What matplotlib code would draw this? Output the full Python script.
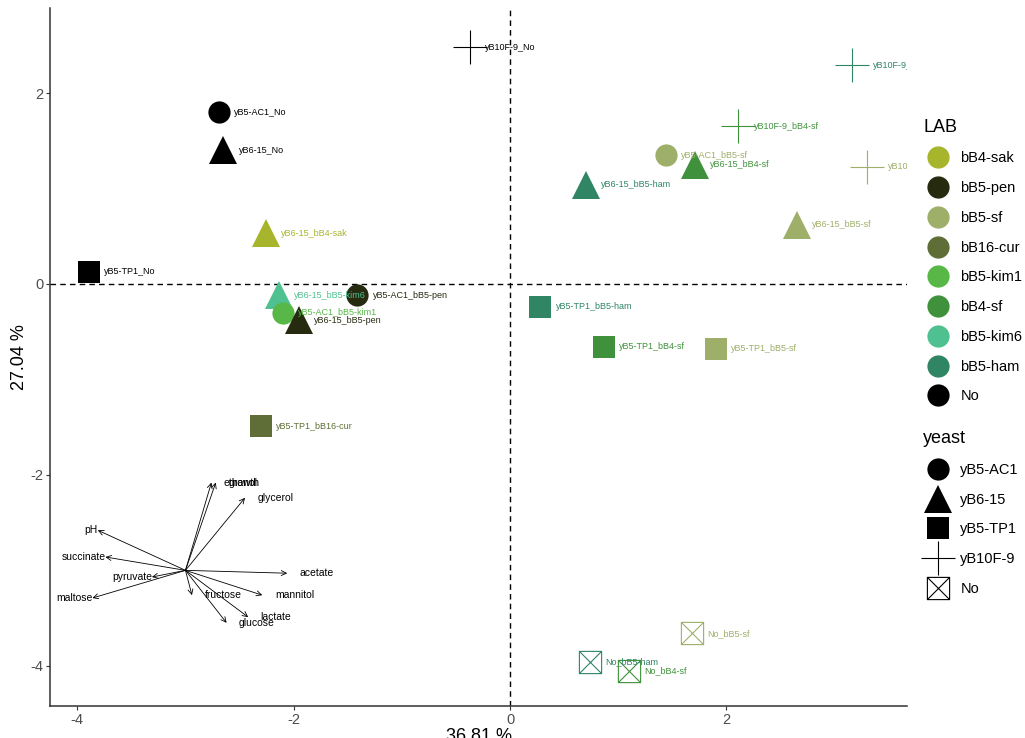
import numpy as np
import matplotlib
matplotlib.use("Agg")
import matplotlib.pyplot as plt
from matplotlib.path import Path
from matplotlib.lines import Line2D

plt.rcParams['font.family'] = ['Liberation Sans', 'DejaVu Sans']
plt.rcParams['axes.unicode_minus'] = False

# sample scores (PC1, PC2)
names = ["yB5-AC1_No", "yB6-15_No", "yB5-TP1_No", "yB6-15_bB4-sak", "yB10F-9_No",
         "yB10F-9_bB5-ham", "yB10F-9_bB4-sf", "yB10F-9_bB5-sf", "yB5-AC1_bB5-sf",
         "yB6-15_bB4-sf", "yB6-15_bB5-ham", "yB6-15_bB5-sf", "yB5-TP1_bB5-ham",
         "yB5-TP1_bB4-sf", "yB5-TP1_bB5-sf", "yB6-15_bB5-kim6", "yB5-AC1_bB5-kim1",
         "yB6-15_bB5-pen", "yB5-AC1_bB5-pen", "yB5-TP1_bB16-cur", "No_bB5-sf",
         "No_bB5-ham", "No_bB4-sf"]
yeast = ["yB5-AC1", "yB6-15", "yB5-TP1", "yB6-15", "yB10F-9",
         "yB10F-9", "yB10F-9", "yB10F-9", "yB5-AC1",
         "yB6-15", "yB6-15", "yB6-15", "yB5-TP1",
         "yB5-TP1", "yB5-TP1", "yB6-15", "yB5-AC1",
         "yB6-15", "yB5-AC1", "yB5-TP1", "No",
         "No", "No"]
lab = ["No", "No", "No", "bB4-sak", "No",
       "bB5-ham", "bB4-sf", "bB5-sf", "bB5-sf",
       "bB4-sf", "bB5-ham", "bB5-sf", "bB5-ham",
       "bB4-sf", "bB5-sf", "bB5-kim6", "bB5-kim1",
       "bB5-pen", "bB5-pen", "bB16-cur", "bB5-sf",
       "bB5-ham", "bB4-sf"]
pc1 = [-2.69, -2.65, -3.89, -2.26, -0.37,
       3.16, 2.11, 3.30, 1.44,
       1.71, 0.70, 2.65, 0.28,
       0.87, 1.90, -2.14, -2.10,
       -1.95, -1.41, -2.30, 1.68,
       0.74, 1.10]
pc2 = [1.80, 1.40, 0.13, 0.53, 2.48,
       2.29, 1.65, 1.23, 1.35,
       1.25, 1.04, 0.62, -0.24,
       -0.66, -0.68, -0.12, -0.30,
       -0.38, -0.12, -1.49, -3.66,
       -3.96, -4.05]

# variable loadings (drawn from origin at -3, -3)
variables = ["ethanol", "growth", "glycerol", "pH", "succinate", "pyruvate",
             "maltose", "acetate", "mannitol", "fructose", "lactate", "glucose"]
load1 = [0.24, 0.28, 0.55, -0.81, -0.74, -0.31, -0.86, 0.94, 0.71, 0.06, 0.58, 0.38]
load2 = [0.92, 0.92, 0.76, 0.42, 0.14, -0.07, -0.29, -0.03, -0.26, -0.26, -0.49, -0.55]
origin = (-3.0, -3.0)

lab_levels = ["bB4-sak", "bB5-pen", "bB5-sf", "bB16-cur", "bB5-kim1",
              "bB4-sf", "bB5-kim6", "bB5-ham", "No"]
lab_colors = ["#A7B52C", "#262B10", "#9DAF68", "#5E6E36", "#57B848",
              "#3F923B", "#4FC191", "#2F8564", "#000000"]
yeast_levels = ["yB5-AC1", "yB6-15", "yB5-TP1", "yB10F-9", "No"]

# boxed cross marker (open square with X)
boxx = Path([(-1, -1), (1, -1), (1, 1), (-1, 1), (-1, -1), (-1, -1), (1, 1), (-1, 1), (1, -1)],
            [Path.MOVETO, Path.LINETO, Path.LINETO, Path.LINETO, Path.CLOSEPOLY,
             Path.MOVETO, Path.LINETO, Path.MOVETO, Path.LINETO])
shape = {"yB5-AC1": ("o", 16, True), "yB6-15": ("^", 20, True), "yB5-TP1": ("s", 16, True),
         "yB10F-9": ("+", 24, False), "No": (boxx, 16, False)}
col = dict(zip(lab_levels, lab_colors))

fig = plt.figure(figsize=(10.25, 7.38), dpi=100)
ax = fig.add_axes([0.049, 0.0435, 0.836, 0.9455])

ax.axhline(0, color="black", ls=(0, (4, 3)), lw=1)
ax.axvline(0, color="black", ls=(0, (4, 3)), lw=1)

for n, ye, lb, x, y in zip(names, yeast, lab, pc1, pc2):
    m, ms, filled = shape[ye]
    c = col[lb]
    if filled:
        ax.plot(x, y, marker=m, ms=ms, color=c, mec=c, mew=0, ls="none", zorder=3)
    else:
        ax.plot(x, y, marker=m, ms=ms, color=c, mfc="none", mew=0.8, ls="none", zorder=3)
    dx = 15 if ye == "yB10F-9" and x > 3 else 11
    ax.annotate(n, (x, y), xytext=(dx, 0), textcoords="offset points", fontsize=6.5,
                color=c, va="center", ha="left", zorder=4, annotation_clip=False,
                clip_on=True)

for v, a, b in zip(variables, load1, load2):
    tip = (origin[0] + a, origin[1] + b)
    ax.annotate("", xy=tip, xytext=origin,
                arrowprops=dict(arrowstyle="->", lw=0.6, color="black",
                                shrinkA=0, shrinkB=0, mutation_scale=9))
    if a >= 0:
        ax.annotate(v, tip, xytext=(9, 0), textcoords="offset points", fontsize=7.5,
                    ha="left", va="center")
    else:
        ax.annotate(v, tip, xytext=(0, 0), textcoords="offset points", fontsize=7.5,
                    ha="right", va="center")

ax.set_xlim(-4.25, 3.67)
ax.set_ylim(-4.42, 2.89)
ax.set_xticks([-4, -2, 0, 2])
ax.set_yticks([-4, -2, 0, 2])
for s in ["top", "right"]:
    ax.spines[s].set_visible(False)
for s in ["left", "bottom"]:
    ax.spines[s].set_color("#333333")
    ax.spines[s].set_linewidth(1.1)
ax.tick_params(colors="#333333", labelcolor="#4D4D4D", labelsize=10.5, length=3,
               width=0.8, pad=2)
ax.set_xlabel("36.81 %", fontsize=13, labelpad=1)
ax.set_ylabel("27.04 %", fontsize=13, labelpad=2)

lab_handles = [Line2D([], [], marker="o", ms=16, color=c, ls="none", mew=0) for c in lab_colors]
leg1 = fig.legend(lab_handles, lab_levels, title="LAB", loc="upper left",
                  bbox_to_anchor=(0.895, 0.847), frameon=False, fontsize=10.5,
                  title_fontsize=13, labelspacing=1.08, handletextpad=0.55,
                  alignment="left", borderaxespad=0)
y_handles = []
for ye in yeast_levels:
    m, ms, filled = shape[ye]
    if filled:
        y_handles.append(Line2D([], [], marker=m, ms=ms, color="black", ls="none", mew=0))
    else:
        y_handles.append(Line2D([], [], marker=m, ms=ms, color="black", mfc="none",
                                ls="none", mew=0.8))
leg2 = fig.legend(y_handles, yeast_levels, title="yeast", loc="upper left",
                  bbox_to_anchor=(0.895, 0.425), frameon=False, fontsize=10.5,
                  title_fontsize=13, labelspacing=1.08, handletextpad=0.55,
                  alignment="left", borderaxespad=0)

fig.savefig("out.png", dpi=100)
